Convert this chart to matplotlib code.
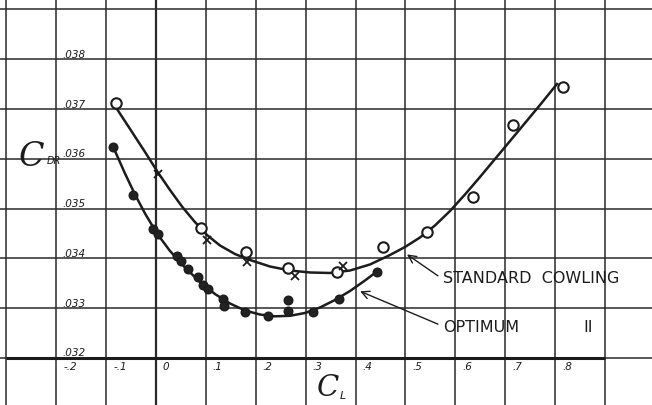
import matplotlib
matplotlib.use("Agg")
import matplotlib.pyplot as plt
import numpy as np

# Standard cowling: test points (open circles and crosses) and faired curve
std_o_cl = [-0.080, 0.090, 0.180, 0.265, 0.363, 0.454, 0.543, 0.635, 0.715, 0.816]
std_o_cd = [0.03712, 0.03461, 0.03413, 0.03381, 0.03373, 0.03422, 0.03453, 0.03523, 0.03668, 0.03744]
std_x_cl = [0.004, 0.102, 0.182, 0.279, 0.375]
std_x_cd = [0.03569, 0.03437, 0.03393, 0.03365, 0.03385]
std_curve_cl = [-0.0782, -0.0521, -0.0220, 0.0040, 0.0281, 0.0521, 0.0762, 0.1022, 0.1283,
                0.1583, 0.1884, 0.2285, 0.2685, 0.3086, 0.3487, 0.3888, 0.4289, 0.4689,
                0.4990, 0.5291, 0.5591, 0.5892, 0.6192, 0.6493, 0.6894, 0.7295, 0.7695, 0.8036]
std_curve_cd = [0.037000, 0.036600, 0.036137, 0.035725, 0.035373, 0.035042, 0.034751, 0.034470,
                0.034259, 0.034088, 0.033968, 0.033837, 0.033757, 0.033717, 0.033707, 0.033757,
                0.033878, 0.034068, 0.034229, 0.034420, 0.034661, 0.034952, 0.035283, 0.035635,
                0.036116, 0.036598, 0.037080, 0.037502]

# Optimum cowling: test points (solid) and faired curve
opt_cl = [-0.086, -0.046, -0.006, 0.004, 0.042, 0.050, 0.064, 0.084, 0.094, 0.104,
          0.134, 0.136, 0.178, 0.224, 0.264, 0.264, 0.314, 0.366, 0.443]
opt_cd = [0.03624, 0.03527, 0.03459, 0.03449, 0.03405, 0.03395, 0.03379, 0.03363, 0.03347,
          0.03339, 0.03318, 0.03304, 0.03292, 0.03284, 0.03316, 0.03294, 0.03292, 0.03318, 0.03373]
opt_curve_cl = [-0.0822, -0.0621, -0.0421, -0.0220, 0.0020, 0.0281, 0.0581, 0.0882, 0.1182,
                0.1483, 0.1784, 0.2084, 0.2385, 0.2685, 0.2986, 0.3287, 0.3587, 0.3888,
                0.4188, 0.4429]
opt_curve_cd = [0.036157, 0.035705, 0.035283, 0.034902, 0.034500, 0.034149, 0.033817, 0.033526,
                0.033285, 0.033094, 0.032954, 0.032873, 0.032837, 0.032847, 0.032904, 0.033014,
                0.033165, 0.033345, 0.033556, 0.033737]

x_ticks = [-0.2, -0.1, 0.0, 0.1, 0.2, 0.3, 0.4, 0.5, 0.6, 0.7, 0.8]
x_tick_labels = ["-.2", "-.1", "0", ".1", ".2", ".3", ".4", ".5", ".6", ".7", ".8"]
y_ticks = [0.032, 0.033, 0.034, 0.035, 0.036, 0.037, 0.038]
y_tick_labels = [".032", ".033", ".034", ".035", ".036", ".037", ".038"]

ink = "#1c1c1c"
grid_ink = "#2a2a2a"

fig = plt.figure(figsize=(6.52, 4.06), dpi=100)
ax = fig.add_axes([0, 0, 1, 1])
ax.set_xlim(-0.3126, 0.994)
ax.set_ylim(0.031056, 0.039209)
ax.axis("off")

# coordinate grid
for gx in np.arange(-0.3, 0.95, 0.1):
    lw = 1.6 if abs(gx) < 1e-9 else 1.1
    ax.axvline(gx, color=grid_ink, lw=lw, zorder=1)
for gy in np.arange(0.032, 0.0395, 0.001):
    ax.axhline(gy, color=grid_ink, lw=1.1, zorder=1)
ax.plot([-0.3, 0.9], [0.032, 0.032], color=ink, lw=2.2, zorder=1, solid_capstyle="butt")

# tick labels written on the grid
for xv, lab in zip(x_ticks, x_tick_labels):
    ax.text(xv + 0.014, 0.03183, lab, fontsize=7.5, style="italic", color=ink,
            ha="left", va="center", family="DejaVu Sans")
for yv, lab in zip(y_ticks, y_tick_labels):
    ax.text(-0.187, yv + 0.00001, lab, fontsize=7.5, style="italic", color=ink,
            ha="left", va="bottom", family="DejaVu Sans")

# faired curves
ax.plot(std_curve_cl, std_curve_cd, color=ink, lw=1.8, zorder=3, solid_joinstyle="round")
ax.plot(opt_curve_cl, opt_curve_cd, color=ink, lw=1.8, zorder=3, solid_joinstyle="round")

# test points
ax.plot(std_o_cl, std_o_cd, ls="none", marker="o", ms=7.5, mfc="white", mec=ink, mew=1.5, zorder=4)
ax.plot(std_x_cl, std_x_cd, ls="none", marker="x", ms=5.5, mec=ink, mew=1.3, zorder=4)
ax.plot(opt_cl, opt_cd, ls="none", marker="o", ms=6.2, mfc="#222222", mec=ink, mew=1.0, zorder=4)

# axis titles
ax.text(-0.276, 0.03605, "C", fontsize=24, style="italic", family="DejaVu Serif",
        color=ink, ha="left", va="center")
ax.text(-0.218, 0.03597, "DR", fontsize=7, style="italic", family="DejaVu Sans",
        color=ink, ha="left", va="center")
ax.text(0.322, 0.031135, "C", fontsize=21, style="italic", family="DejaVu Serif",
        color=ink, ha="left", va="bottom")
ax.text(0.368, 0.03115, "L", fontsize=8, style="italic", family="DejaVu Sans",
        color=ink, ha="left", va="bottom")

# curve labels with leader arrows
arrow = dict(arrowstyle="->", color=ink, lw=1.0, mutation_scale=14, shrinkA=0, shrinkB=0)
ax.annotate("", xy=(0.503, 0.03408), xytext=(0.565, 0.03365), arrowprops=arrow)
ax.annotate("", xy=(0.409, 0.03334), xytext=(0.565, 0.03268), arrowprops=arrow)
ax.text(0.575, 0.03362, "STANDARD  COWLING", fontsize=11.5, color=ink,
        ha="left", va="center", family="DejaVu Sans")
ax.text(0.575, 0.03264, "OPTIMUM", fontsize=11.5, color=ink,
        ha="left", va="center", family="DejaVu Sans")
ax.text(0.857, 0.03264, "II", fontsize=11.5, color=ink,
        ha="left", va="center", family="DejaVu Sans")

fig.savefig("out.png", dpi=100, facecolor="white")
